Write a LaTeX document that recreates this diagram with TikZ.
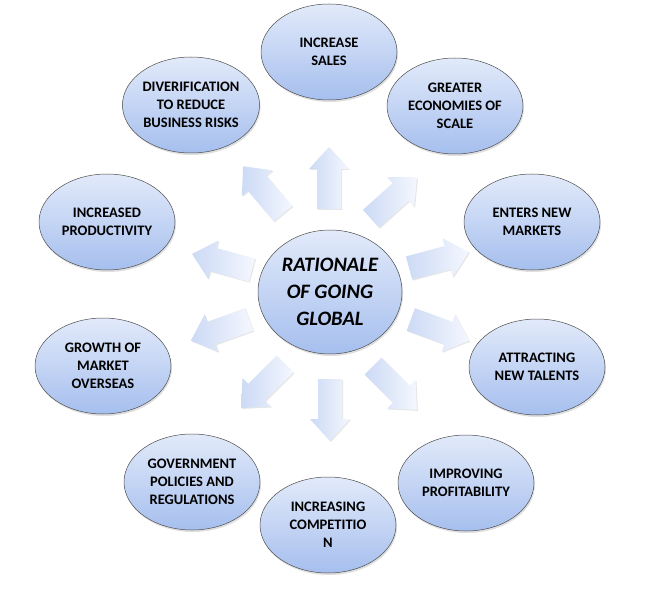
\documentclass[tikz,border=0pt]{standalone}
\usepackage{fontspec}
\setmainfont{Carlito}
\usetikzlibrary{shapes.geometric,shadows}
\definecolor{etop}{HTML}{E2EAFA}
\definecolor{ebot}{HTML}{A6BFEE}
\definecolor{atop}{HTML}{F4F7FE}
\definecolor{abot}{HTML}{CCDAF5}
\tikzset{
 bub/.style={ellipse,draw=black!70,line width=0.5pt,top color=etop,bottom color=ebot,minimum width=136pt,minimum height=96pt,inner sep=0pt,align=center,font=\bfseries\fontsize{14.5}{18}\selectfont,drop shadow={opacity=0.25,shadow xshift=1pt,shadow yshift=-2pt}},
 arrowfill/.style={left color=abot,right color=atop,draw=none,drop shadow={opacity=0.2,shadow xshift=1pt,shadow yshift=-1pt}},
}
\newcommand{\blockarrow}[3]{%
 \begin{scope}[shift={(#1,#2)},rotate=#3]
 \path[arrowfill] (-31,12) -- (9,12) -- (9,20) -- (31,0) -- (9,-20) -- (9,-12) -- (-31,-12) -- cycle;
 \end{scope}}
\begin{document}
\begin{tikzpicture}[x=1pt,y=-1pt]
\useasboundingbox (0,0) rectangle (652,593);
\node[bub,minimum width=144pt,minimum height=124pt,font=\bfseries\itshape\fontsize{20.5}{27}\selectfont] (c) at (330,292) {RATIONALE\\OF GOING\\GLOBAL};
\node[bub] (n1) at (329,52) {INCREASE\\SALES};
\node[bub] (n2) at (455,106) {GREATER\\ECONOMIES OF\\SCALE};
\node[bub] (n3) at (532,222) {ENTERS NEW\\MARKETS};
\node[bub] (n4) at (537,367) {ATTRACTING\\NEW TALENTS};
\node[bub] (n5) at (466,483) {IMPROVING\\PROFITABILITY};
\node[bub] (n6) at (328,525) {INCREASING\\COMPETITIO\\N};
\node[bub] (n7) at (192,482) {GOVERNMENT\\POLICIES AND\\REGULATIONS};
\node[bub] (n8) at (103,366) {GROWTH OF\\MARKET\\OVERSEAS};
\node[bub] (n9) at (107,222) {INCREASED\\PRODUCTIVITY};
\node[bub] (n10) at (191,105) {DIVERIFICATION\\TO REDUCE\\BUSINESS RISKS};
\blockarrow{329}{178}{90}
\blockarrow{394}{198}{42}
\blockarrow{439}{260}{15}
\blockarrow{440}{330}{-20}
\blockarrow{395}{388}{-45}
\blockarrow{330}{410}{-90}
\blockarrow{263}{386}{-135}
\blockarrow{220}{330}{-160}
\blockarrow{222}{262}{165}
\blockarrow{263}{190}{130}
\end{tikzpicture}
\end{document}
